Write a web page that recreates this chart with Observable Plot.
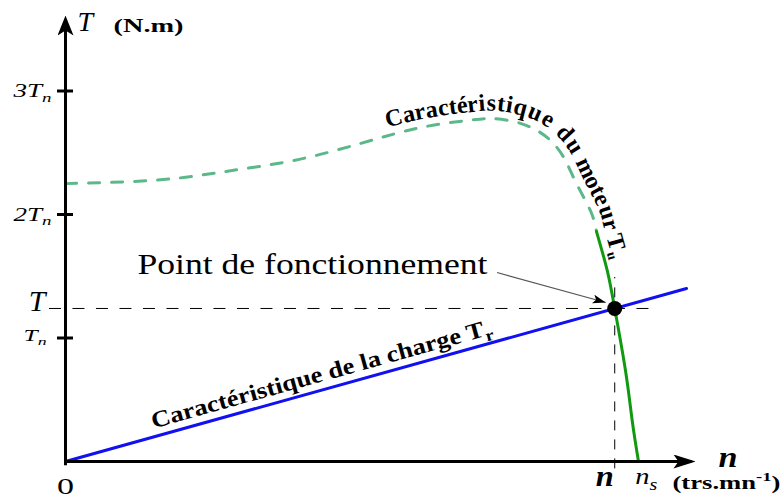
<!DOCTYPE html>
<html><head><meta charset="utf-8">
<script src="https://cdn.jsdelivr.net/npm/d3@7"></script>
<script src="https://cdn.jsdelivr.net/npm/@observablehq/plot@0.6"></script>
<style>body{margin:0;background:#fff} svg{display:block}</style>
</head><body><div id="chart"></div>
<script>
// ---------- data (n in units of n_s, T in units of T_n) ----------
const yTicks = [1, 2, 3];
const yTickLabels = ["T_{n}", "2T_{n}", "3T_{n}"];
const motorDashedN = [0, 0.166, 0.283, 0.398, 0.515, 0.620, 0.702, 0.742, 0.782, 0.817, 0.847, 0.870, 0.887, 0.905, 0.920, 0.9272];
const motorDashedT = [2.25, 2.281, 2.351, 2.437, 2.575, 2.704, 2.761, 2.777, 2.753, 2.696, 2.599, 2.462, 2.300, 2.138, 1.992, 1.862];
const motorSolidN = [0.9272, 0.9459, 0.959, 0.9778, 0.9895, 1.0005];
const motorSolidT = [1.862, 1.547, 1.239, 0.737, 0.332, 0];
const loadN = [0, 1.0843];
const loadT = [0, 1.4009];
const opN = 0.959, opT = 1.239;   // point de fonctionnement
const nS = 1;                      // vitesse de synchronisme
const nMax = 1.1, TMax = 3.611;    // axis ends

const xRange = [65, 637.7], yRange = [461, 337.5];
const kx = xRange[1] - xRange[0], ky = yRange[0] - yRange[1];

const rows = (N, T) => N.map((n, i) => ({n, T: T[i]}));
const motorDashed = rows(motorDashedN, motorDashedT);
const motorSolid = rows(motorSolidN, motorSolidT);
const motorAll = motorDashed.concat(motorSolid.slice(1));
const load = rows(loadN, loadT);
const operating = [{n: opN, T: opT}];
const tickRows = yTicks.map((v, i) => ({v, label: yTickLabels[i]}));

function headMarker(len, wid, notch, back, fill) {
  return () => {
    const m = d3.create("svg:marker")
      .attr("viewBox", `0 ${-wid / 2} ${len} ${wid}`)
      .attr("markerWidth", len).attr("markerHeight", wid)
      .attr("markerUnits", "userSpaceOnUse")
      .attr("refX", len - back).attr("refY", 0)
      .attr("orient", "auto")
      .attr("fill", fill).attr("stroke", "none");
    m.append("path").attr("d", `M0,${-wid / 2}L${len},0L0,${wid / 2}L${notch},0Z`);
    return m.node();
  };
}

const loadAngle = -Math.atan2((loadT[1] - loadT[0]) * ky, (loadN[1] - loadN[0]) * kx) * 180 / Math.PI;
const serif = "'Liberation Serif', 'Times New Roman', serif";

const svg = Plot.plot({
  width: 782, height: 497,
  style: {fontFamily: serif, background: "#fff", overflow: "visible"},
  x: {domain: [0, 1], range: xRange, axis: null},
  y: {domain: [0, 1], range: yRange, axis: null},
  marks: [
    // reference dashed lines
    Plot.ruleY([opT], {x1: -0.028, x2: 1.0215, stroke: "#000", strokeWidth: 1, strokeDasharray: "12,11.5"}),
    Plot.ruleX([opN], {y1: -0.06, y2: 1.49, stroke: "#000", strokeWidth: 1, strokeDasharray: "10,9"}),
    // curves
    Plot.line(load, {x: "n", y: "T", stroke: "#1010f0", strokeWidth: 3}),
    Plot.line(motorDashed, {x: "n", y: "T", curve: "natural", stroke: "#5cb88a", strokeWidth: 3, strokeDasharray: "11,12"}),
    Plot.line(motorSolid, {x: "n", y: "T", curve: "natural", stroke: "#119a11", strokeWidth: 3}),
    Plot.line(motorAll, {x: "n", y: "T", curve: "natural", stroke: "#000", strokeOpacity: 0, ariaDescription: "motor-guide"}),
    // axes
    Plot.link([0], {x1: 0, y1: -0.03, x2: 0, y2: TMax - 4 / ky, stroke: "#000", strokeWidth: 3,
      markerEnd: headMarker(20, 16, 5, 4, "#000")}),
    Plot.link([0], {x1: 0, y1: 0, x2: nMax - 4 / kx, y2: 0, stroke: "#000", strokeWidth: 3,
      markerEnd: headMarker(22, 14, 5, 4, "#000")}),
    Plot.ruleY(yTicks, {x1: -0.014, x2: 0.014, stroke: "#000", strokeWidth: 3}),
    // operating point
    Plot.dot(operating, {x: "n", y: "T", r: 7.5, fill: "#000"}),
    Plot.link([0], {x1: 0.7535, y1: 1.53, x2: opN - 9 / kx, y2: opT + 6 / ky, stroke: "#555", strokeWidth: 1.2,
      markerEnd: headMarker(13, 9, 3, 0, "#000")}),
    // y tick labels
    Plot.text(tickRows.filter(d => d.v > 1), {x: 0, y: "v", text: "label", dx: -14, textAnchor: "end", lineAnchor: "middle",
      fontSize: 19, fontStyle: "italic", ariaDescription: "ticklab"}),
    Plot.text(tickRows.filter(d => d.v === 1), {x: 0, y: "v", text: "label", dx: -19, dy: -2, textAnchor: "end", lineAnchor: "middle",
      fontSize: 16, fontStyle: "italic", ariaDescription: "ticklab1"}),
    Plot.text(operating, {x: 0, y: "T", text: () => "T", dx: -20, dy: -7, textAnchor: "end", lineAnchor: "middle",
      fontSize: 30, fontStyle: "italic", ariaDescription: "Tlab"}),
    Plot.text([0], {x: 0, y: 0, text: () => "0", dy: 32, textAnchor: "middle", lineAnchor: "bottom",
      fontSize: 24, ariaDescription: "zero"}),
    // y axis title
    Plot.text([0], {x: 0, y: TMax, text: () => "T", dx: 12, dy: 15, textAnchor: "start", lineAnchor: "bottom",
      fontSize: 28, fontStyle: "italic", ariaDescription: "ytitle"}),
    Plot.text([0], {x: 0, y: TMax, text: () => "(N.m)", dx: 48, dy: 16, textAnchor: "start", lineAnchor: "bottom",
      fontSize: 18, fontWeight: "bold", ariaDescription: "yunit"}),
    // x labels
    Plot.text(operating, {x: "n", y: 0, text: () => "n", dx: -10, dy: 24, textAnchor: "middle", lineAnchor: "bottom",
      fontSize: 30, fontStyle: "italic", fontWeight: "bold", ariaDescription: "nop"}),
    Plot.text([nS], {x: d => d, y: 0, text: () => "n_{s}", dx: -3, dy: 22, textAnchor: "start", lineAnchor: "bottom",
      fontSize: 24, fontStyle: "italic", ariaDescription: "ns"}),
    Plot.text([0], {x: nMax, y: 0, text: () => "n", dx: 23, dy: 5, textAnchor: "start", lineAnchor: "bottom",
      fontSize: 30, fontStyle: "italic", fontWeight: "bold", ariaDescription: "naxis"}),
    Plot.text([0], {x: nMax, y: 0, text: () => "(trs.mn^{-1})", dx: -23, dy: 27, textAnchor: "start", lineAnchor: "bottom",
      fontSize: 18, fontWeight: "bold", ariaDescription: "xunit"}),
    // annotations
    Plot.text([0], {x: 0.1257, y: 1.522, text: () => "Point de fonctionnement", textAnchor: "start", lineAnchor: "bottom",
      fontSize: 30, ariaDescription: "point"}),
    Plot.text([0], {x: 0.157, y: 0.157 * loadT[1] / loadN[1], text: () => "Caractéristique de la charge T_{r}",
      rotate: loadAngle, dx: -2, dy: -8, textAnchor: "start", lineAnchor: "bottom",
      fontSize: 23, fontWeight: "bold", ariaDescription: "load"})
  ]
});
document.getElementById("chart").append(svg);

// sub/superscripts as tspans
function richify(el) {
  const s = el.textContent;
  if (!/[_^]\{/.test(s)) return;
  const re = /([_^])\{([^}]*)\}/g;
  const fs = parseFloat(getComputedStyle(el).fontSize);
  while (el.firstChild) el.removeChild(el.firstChild);
  let last = 0, pending = 0, m;
  const add = (txt, dy, size) => {
    const ts = document.createElementNS("http://www.w3.org/2000/svg", "tspan");
    if (dy) ts.setAttribute("dy", dy);
    if (size) ts.setAttribute("font-size", size);
    ts.textContent = txt;
    el.appendChild(ts);
  };
  while ((m = re.exec(s))) {
    if (m.index > last) { add(s.slice(last, m.index), -pending); pending = 0; }
    const d = (m[1] === "_" ? 0.25 : -0.42) * fs;
    add(m[2], d - pending, 0.7 * fs);
    pending = d;
    last = re.lastIndex;
  }
  if (last < s.length) add(s.slice(last), -pending);
}
svg.querySelectorAll("text").forEach(richify);

const groupOf = k => svg.querySelector(`g[aria-description="${k}"]`);
const lengths = {ticklab: 38, ticklab1: 23, yunit: 70, zero: 17, nop: 18, ns: 22, naxis: 19, xunit: 108, point: 350, load: 353};
for (const [k, L] of Object.entries(lengths)) {
  const g = groupOf(k);
  if (!g) continue;
  g.querySelectorAll("text").forEach(t => {
    t.setAttribute("textLength", L);
    t.setAttribute("lengthAdjust", "spacingAndGlyphs");
  });
}

// motor label along the motor curve
const guideG = groupOf("motor-guide");
const guide = guideG && guideG.querySelector("path");
if (guide) {
  guide.setAttribute("id", "motorGuide");
  const xs = svg.scale("x"), ys = svg.scale("y");
  const startX = xs.apply(0.565), endY = ys.apply(1.87);
  const total = guide.getTotalLength();
  let L0 = 0, L1 = total;
  for (let l = 0; l < total; l += 0.5) { if (guide.getPointAtLength(l).x >= startX) { L0 = l; break; } }
  for (let l = L0; l < total; l += 0.5) { if (guide.getPointAtLength(l).y >= endY) { L1 = l; break; } }
  const lbl = d3.select(guideG).append("text")
    .attr("fill", "#000").attr("stroke", "none").attr("stroke-opacity", 1)
    .attr("text-anchor", "start")
    .attr("font-family", serif).attr("font-size", 24).attr("font-weight", "bold")
    .attr("dy", -8);
  const label = "Caractéristique du moteur T";
  const tp = lbl.append("textPath").attr("href", "#motorGuide").attr("startOffset", L0);
  tp.append("tspan").text(label);
  tp.append("tspan").attr("font-size", 14).attr("dy", 4).text("u");
  const natural = lbl.node().getComputedTextLength();
  const target = (L1 - L0) * 1.02;
  const spacing = Math.max(0, (target - natural) / (label.length + 1));
  lbl.attr("letter-spacing", spacing.toFixed(2));
}
</script>
</body></html>
